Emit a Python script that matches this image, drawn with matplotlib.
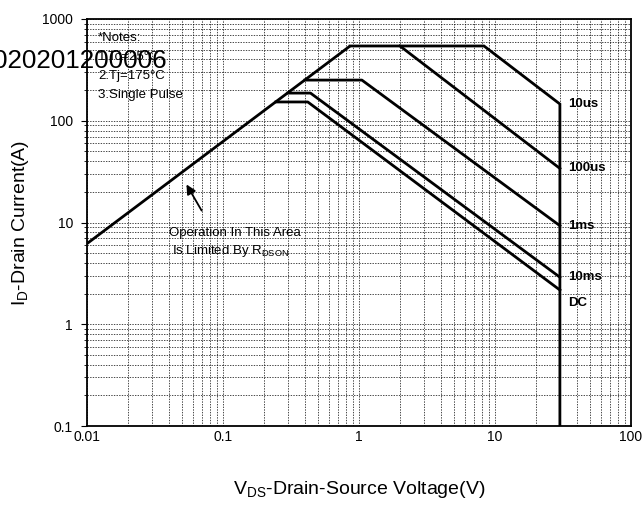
import matplotlib.pyplot as plt

plt.rcParams['font.family'] = ['Liberation Sans', 'DejaVu Sans']
plt.rcParams['mathtext.fontset'] = 'custom'
plt.rcParams['mathtext.rm'] = 'Liberation Sans'

# SOA curves (V, A)
rds_v = [0.01, 0.86]
rds_i = [6.2, 543]

v_10us = [0.86, 8.3, 30, 30]
i_10us = [543, 543, 146, 0.1]

v_100us = [2.0, 30]
i_100us = [543, 34]

v_1ms = [0.40, 1.05, 30]
i_1ms = [251, 251, 9.3]

v_10ms = [0.30, 0.44, 30]
i_10ms = [187, 187, 2.9]

v_dc = [0.245, 0.42, 30]
i_dc = [153, 153, 2.17]

curve_labels = ['10us', '100us', '1ms', '10ms', 'DC']
label_v = [30, 30, 30, 30, 30]
label_i = [146, 34, 9.3, 2.9, 2.17]

notes = ['*Notes:', '1.Tc=25\u00b0C', '2.Tj=175\u00b0C', '3.Single Pulse']

fig = plt.figure(figsize=(6.43, 5.09), dpi=100)
ax = fig.add_axes([87/643, 1 - 426/509, (631-87)/643, (426-19)/509])
ax.set_xscale('log')
ax.set_yscale('log')
ax.set_xlim(0.01, 100)
ax.set_ylim(0.1, 1000)

ax.grid(True, which='both', color='black', linestyle=(0, (2, 1.8)), linewidth=0.5)
ax.set_axisbelow(True)

lw = 2.0
ax.plot(rds_v, rds_i, color='black', lw=lw, solid_capstyle='butt')
ax.plot(v_10us, i_10us, color='black', lw=lw, solid_joinstyle='miter')
ax.plot(v_100us, i_100us, color='black', lw=lw)
ax.plot(v_1ms, i_1ms, color='black', lw=lw)
ax.plot(v_10ms, i_10ms, color='black', lw=lw)
ax.plot(v_dc, i_dc, color='black', lw=lw)

for lab, v, i in zip(curve_labels, label_v, label_i):
    dy = -9 if lab == 'DC' else 0
    ax.annotate(lab, (v, i), xytext=(6, dy), textcoords='offset points',
                ha='left', va='center', fontsize=9.5, fontweight='bold')

ax.set_xticks([0.01, 0.1, 1, 10, 100])
ax.set_xticklabels(['0.01', '0.1', '1', '10', '100'])
ax.set_yticks([0.1, 1, 10, 100, 1000])
ax.set_yticklabels(['0.1', '1', '10', '100', '1000'])
ax.tick_params(axis='x', which='both', length=0, labelsize=10, pad=3)
ax.tick_params(axis='y', which='major', length=4, labelsize=10, pad=6)
ax.tick_params(axis='y', which='minor', length=2)
for s in ax.spines.values():
    s.set_linewidth(1.3)

for n, t in enumerate(notes):
    fig.text(98/643, 1 - (38 + 19*n)/509, t, fontsize=9.5, va='center', ha='left')

ax.annotate('', xy=(0.0526, 25), xytext=(0.0713, 12.4),
            arrowprops=dict(arrowstyle='-|>', color='black', lw=1.3,
                            mutation_scale=14))
ax.text(0.040, 7.9, 'Operation In This Area', fontsize=9.5, va='center', ha='left')
ax.text(0.042, 5.25, r'Is Limited By R$\mathregular{_{DSON}}$', fontsize=9.5,
        va='center', ha='left')

ax.set_xlabel(r'V$\mathregular{_{DS}}$-Drain-Source Voltage(V)', fontsize=14, labelpad=25)
ax.set_ylabel(r'I$\mathregular{_{D}}$-Drain Current(A)', fontsize=14, labelpad=8)

fig.text(167/643, 1 - 61/509, '020201200006', fontsize=18.7, ha='right', va='center')

fig.savefig('out.png', dpi=100)
